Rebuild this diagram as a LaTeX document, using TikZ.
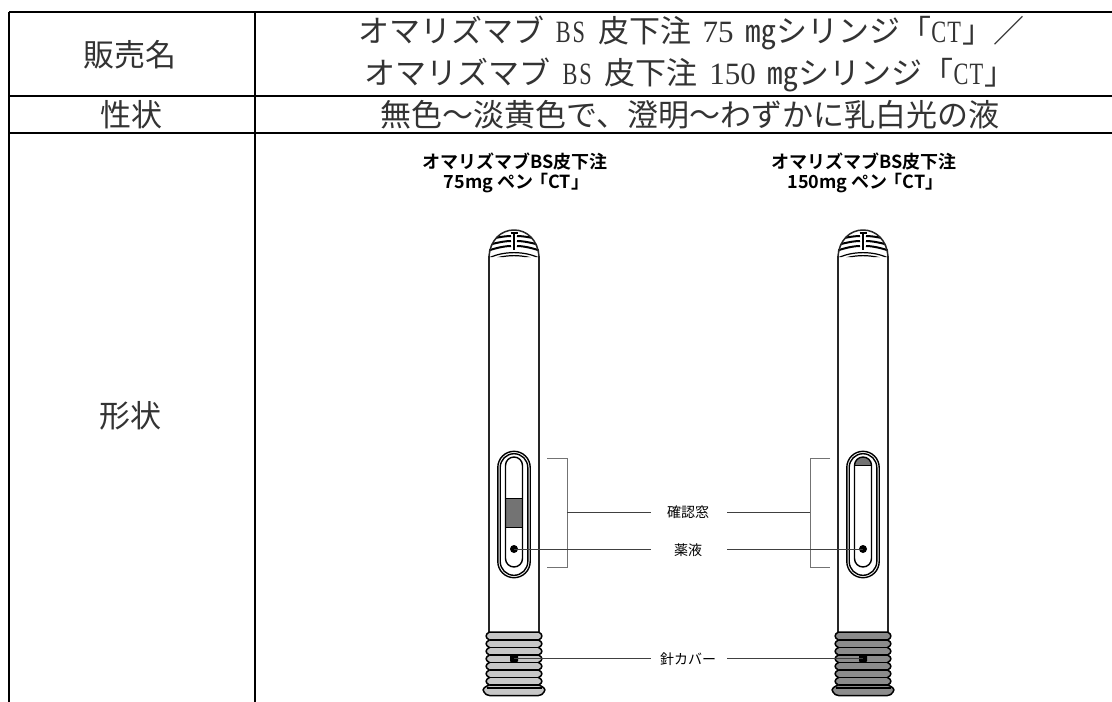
\documentclass[tikz,border=0pt]{standalone}
\usepackage{fontspec}
\setmainfont{Liberation Serif}
\newfontfamily\cjk{Noto Sans CJK JP}[BoldFont={Noto Sans CJK JP Bold}]
\newfontfamily\narrowlat{Liberation Serif}[FakeStretch=0.72]
\definecolor{txt}{gray}{0.2}
\newcommand{\hw}[1]{\makebox[15.5pt][c]{\narrowlat #1}}
\newcommand{\hd}[1]{\makebox[15.5pt][c]{\rmfamily #1}}
\newcommand{\sps}{\hspace{11.5pt}}
\tikzset{
  rule/.style={line width=2pt,black},
  celltext/.style={font=\fontsize{31}{38}\selectfont\cjk,text=txt,inner sep=0pt,align=center},
  headtext/.style={font=\fontsize{18}{20}\selectfont\cjk\bfseries,text=black,inner sep=0pt,align=center},
  labeltext/.style={font=\fontsize{14}{16}\selectfont\cjk,text=black,inner sep=0pt},
  pen/.style={line width=1.5pt,black!85},
  ring/.style={line width=1.4pt,black},
  rib/.style={line width=1.5pt,black},
  stripe/.style={line width=2pt,black},
  bracket/.style={line width=0.9pt,black!55},
  leader/.style={line width=0.9pt,black!75},
}
\newcommand{\penbody}[3]{% #1 center x, #2 cover fill, #3 marking in the window
  \begin{scope}[shift={(#1,0)}]
    % dome
    \draw[pen] (-25,256) -- (-25,632) (25,256) -- (25,632);
    \begin{scope}
      \clip (-26,257) .. controls (-25,240) and (-13,230) .. (0,230) .. controls (13,230) and (25,240) .. (26,257) -- cycle;
      \draw[stripe] (-27,251) .. controls (-14,246.5) and (-6,246) .. (-3,246);
      \draw[stripe] (27,251) .. controls (14,246.5) and (6,246) .. (3,246);
      \draw[stripe] (-27,245.5) .. controls (-14,241.5) and (-6,241) .. (-3,241);
      \draw[stripe] (27,245.5) .. controls (14,241.5) and (6,241) .. (3,241);
      \draw[stripe] (-27,240) .. controls (-14,236.5) and (-6,236) .. (-3,236);
      \draw[stripe] (27,240) .. controls (14,236.5) and (6,236) .. (3,236);
      \draw[line width=1.4pt] (-3.5,233) -- (3.5,233);
      \draw[line width=1.8pt] (0,233) -- (0,250);
      \draw[line width=1.2pt] (-27,259) .. controls (-12,250.5) and (12,250.5) .. (27,259);
      \draw[line width=1.2pt] (-27,262) .. controls (-12,253.5) and (12,253.5) .. (27,262);
    \end{scope}
    \draw[pen] (-25,257) .. controls (-24,240) and (-13,230) .. (0,230) .. controls (13,230) and (24,240) .. (25,257);
    % window
    \draw[ring] (-16.2,467.5) arc[start angle=180,end angle=360,radius=16.2] -- (16.2,561.5) arc[start angle=0,end angle=180,radius=16.2] -- cycle;
    \draw[ring] (-13.8,467.5) arc[start angle=180,end angle=360,radius=13.8] -- (13.8,561.5) arc[start angle=0,end angle=180,radius=13.8] -- cycle;
    #3
    \draw[ring] (-8.5,465.5) arc[start angle=180,end angle=360,radius=8.5] -- (8.5,558.5) arc[start angle=0,end angle=180,radius=8.5] -- cycle;
    % cover
    \draw[rib,fill=#2]
      (-24.5,632) -- (24.5,632)
      .. controls (29,634) and (29,638) .. (24.5,640)
      .. controls (29,642) and (29,645.5) .. (24.5,647.5)
      .. controls (29,649.5) and (29,653) .. (24.5,655)
      .. controls (29,657) and (29,660.5) .. (24.5,662.5)
      .. controls (29,664.5) and (29,668) .. (24.5,670)
      .. controls (29,672) and (29,675.5) .. (24.5,677.5)
      .. controls (29,679.5) and (29,683) .. (24.5,685)
      .. controls (28,686) and (33,689) .. (30,692)
      .. controls (29,694) and (27,695.5) .. (24.5,695.5)
      -- (-24.5,695.5)
      .. controls (-27,695.5) and (-29,694) .. (-30,692)
      .. controls (-33,689) and (-28,686) .. (-24.5,685)
      .. controls (-29,683) and (-29,679.5) .. (-24.5,677.5)
      .. controls (-29,675.5) and (-29,672) .. (-24.5,670)
      .. controls (-29,668) and (-29,664.5) .. (-24.5,662.5)
      .. controls (-29,660.5) and (-29,657) .. (-24.5,655)
      .. controls (-29,653) and (-29,649.5) .. (-24.5,647.5)
      .. controls (-29,645.5) and (-29,642) .. (-24.5,640)
      .. controls (-29,638) and (-29,634) .. (-24.5,632) -- cycle;
    \draw[rib] (-24.5,640) -- (24.5,640) (-24.5,647.5) -- (24.5,647.5) (-24.5,655) -- (24.5,655) (-24.5,662.5) -- (24.5,662.5) (-24.5,670) -- (24.5,670) (-24.5,677.5) -- (24.5,677.5) (-24.5,685) -- (24.5,685) (-27.5,688) -- (27.5,688);
    \fill[black,rounded corners=1.5pt] (-4,654.5) rectangle (4,662.5);
    \fill[black] (0,549) circle (4);
  \end{scope}
}
\begin{document}
\begin{tikzpicture}[x=1pt,y=-1pt]
\useasboundingbox (0,0) rectangle (1112,702);
\fill[white] (0,0) rectangle (1112,702);
% table
\coordinate (tl) at (9,12);
\coordinate (tr) at (1112,12);
\coordinate (ml) at (9,96);
\coordinate (mr) at (1112,96);
\coordinate (nl) at (9,133);
\coordinate (nr) at (1112,133);
\coordinate (bl) at (9,702);
\coordinate (ct) at (255,12);
\coordinate (cb) at (255,702);
\draw[rule] (tl) -- (tr) (ml) -- (mr) (nl) -- (nr) (tl) -- (bl) (ct) -- (cb);
\node[celltext] (a1) at (130,55) {販売名};
\node[celltext] (a2) at (131,115) {性状};
\node[celltext] (a3) at (130,416) {形状};
\node[celltext] (b1a) at (691,33) {オマリズマブ\sps\hw{B}\hw{S}\sps 皮下注\sps\hd{7}\hd{5}\sps ㎎シリンジ「\hw{C}\hw{T}」／};
\node[celltext] (b1b) at (690,75) {オマリズマブ\sps\hw{B}\hw{S}\sps 皮下注\sps\hd{1}\hd{5}\hd{0}\sps ㎎シリンジ「\hw{C}\hw{T}」};
\node[celltext] (b2) at (690,115) {無色～淡黄色で、澄明～わずかに乳白光の液};
\node[headtext] (h1) at (515,173) {オマリズマブBS皮下注\\75mg ペン\kern-3pt「CT」\kern-3pt};
\node[headtext] (h2) at (864,173) {オマリズマブBS皮下注\\150mg ペン\kern-3pt「CT」\kern-3pt};
% pens
\penbody{514}{black!22}{\fill[black!55] (-8.5,498) rectangle (8.5,527); \draw[line width=1pt] (-8.5,498) -- (8.5,498) (-8.5,527) -- (8.5,527);}
\penbody{863}{black!45}{\fill[black!55] (-8.5,465.5) arc[start angle=180,end angle=360,radius=8.5] -- cycle; \draw[line width=1pt] (-8.5,465.5) -- (8.5,465.5);}
% labels
\node[labeltext] (l1) at (688,512.5) {確認窓};
\node[labeltext] (l2) at (688,550) {薬液};
\node[labeltext] (l3) at (688,659) {針カバー};
\coordinate (wL) at (514,549);
\coordinate (wR) at (863,549);
\coordinate (cL) at (514,658);
\coordinate (cR) at (863,658);
\coordinate (bLm) at (567,512);
\coordinate (bRm) at (810,512);
\coordinate (eL1) at (651,512);
\coordinate (eR1) at (727,512);
\coordinate (eL2) at (651,549);
\coordinate (eR2) at (727,549);
\coordinate (eL3) at (651,658);
\coordinate (eR3) at (727,658);
\draw[bracket] (547,458) -- (567,458) -- (567,567) -- (547,567);
\draw[bracket] (830,458) -- (810,458) -- (810,567) -- (830,567);
\draw[leader] (bLm) -- (eL1);
\draw[leader] (bRm) -- (eR1);
\draw[leader] (wL) -- (eL2);
\draw[leader] (wR) -- (eR2);
\draw[leader] (cL) -- (eL3);
\draw[leader] (cR) -- (eR3);
\end{tikzpicture}
\end{document}
